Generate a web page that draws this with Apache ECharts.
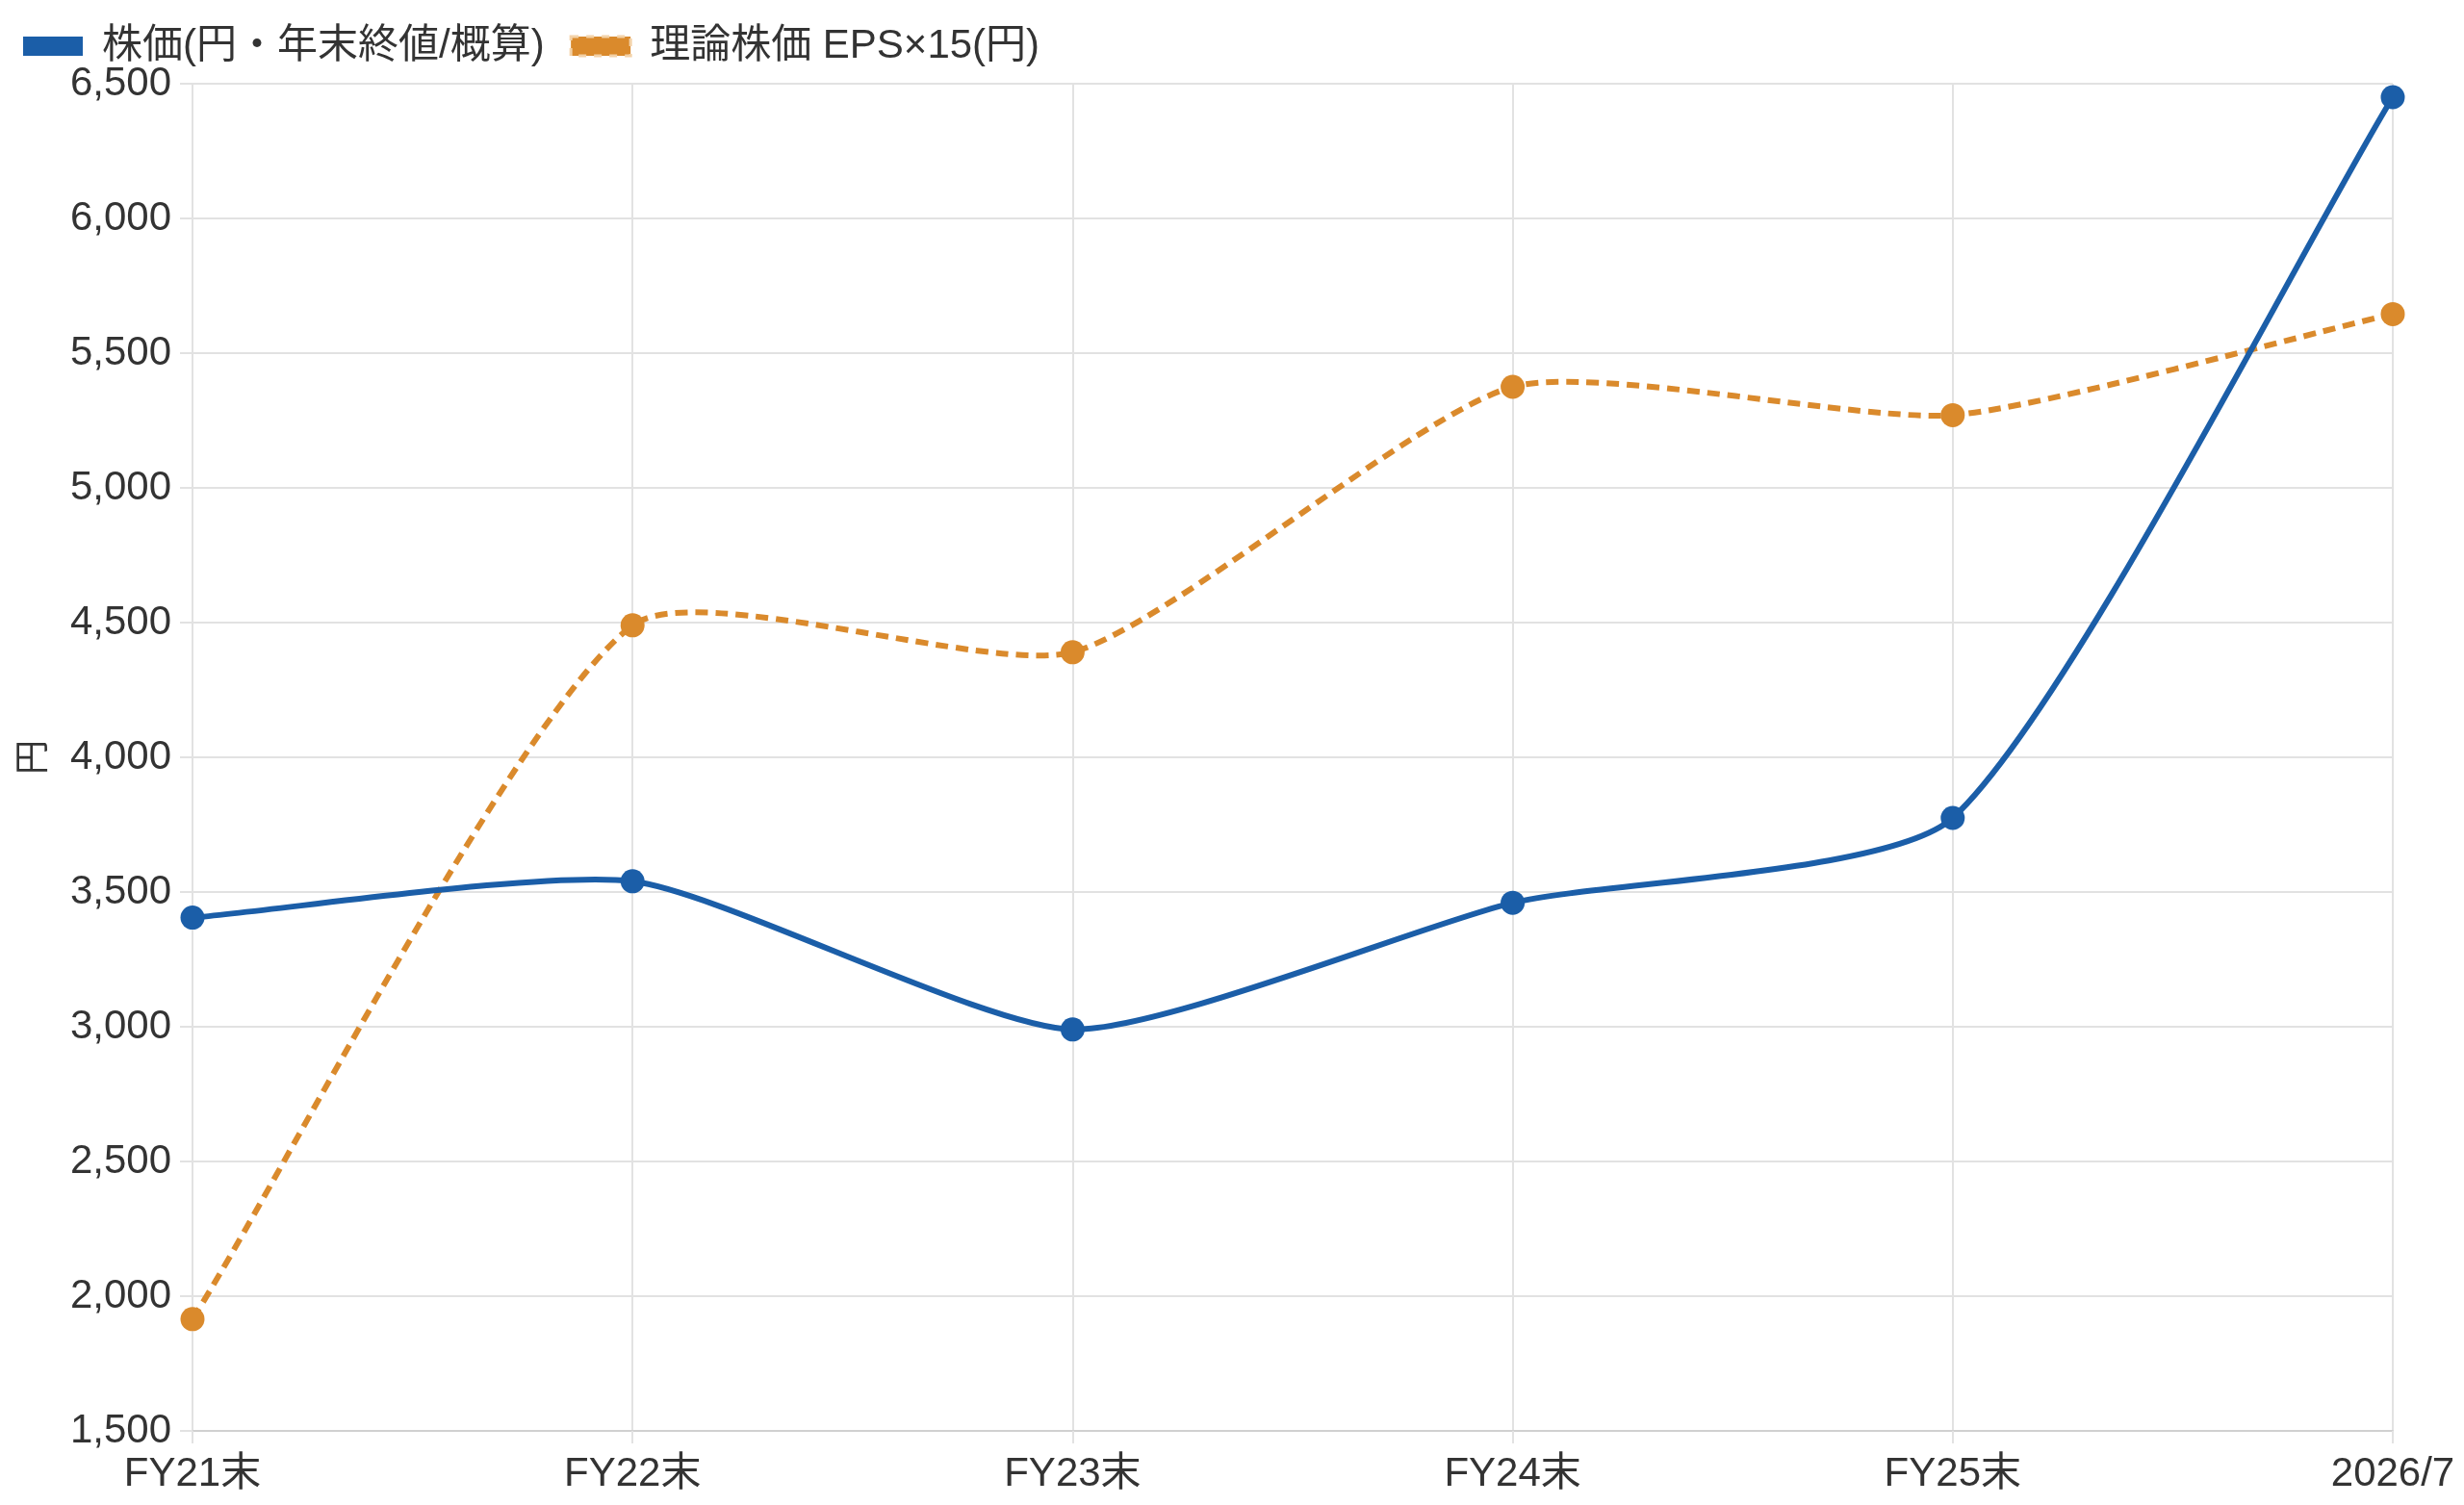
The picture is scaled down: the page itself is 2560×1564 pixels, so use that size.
<!DOCTYPE html>
<html>
<head>
<meta charset="utf-8">
<script src="https://cdn.jsdelivr.net/npm/echarts@6/dist/echarts.min.js"></script>
<style>
html,body{margin:0;padding:0;background:#fff;}
#chart{width:2560px;height:1564px;}
</style>
</head>
<body>
<div id="chart"></div>
<script>
var categories = ['FY21末','FY22末','FY23末','FY24末','FY25末','2026/7'];
var priceValues = [3405, 3540, 2990, 3460, 3775, 6450];
var theoryValues = [1915, 4490, 4390, 5375, 5270, 5645];
var seriesNames = ['株価(円・年末終値/概算)', '理論株価 EPS×15(円)'];

var FONT = 'Liberation Sans, "Noto Sans CJK JP", sans-serif';
var TEXT = '#333333';
var GRID = '#e2e2e2';
var BLUE = '#1b5ea8';
var ORANGE = '#da8a2c';
var TENSION = 0.2;

// 曲線は各点の前後から制御点を計算（端点は隣の点の方へ）
function splinePath(api, values){
	var pts = values.map(function(v, i){ return api.coord([i, v]); });
	var n = pts.length;
	var cps = pts.map(function(p, i){
		var prev = pts[Math.max(i - 1, 0)];
		var next = pts[Math.min(i + 1, n - 1)];
		var d01 = Math.hypot(p[0] - prev[0], p[1] - prev[1]);
		var d12 = Math.hypot(next[0] - p[0], next[1] - p[1]);
		var s01 = d01 / (d01 + d12) || 0;
		var s12 = d12 / (d01 + d12) || 0;
		var fa = TENSION * s01, fb = TENSION * s12;
		return {
			prev: [p[0] - fa * (next[0] - prev[0]), p[1] - fa * (next[1] - prev[1])],
			next: [p[0] + fb * (next[0] - prev[0]), p[1] + fb * (next[1] - prev[1])]
		};
	});
	var d = 'M' + pts[0][0] + ' ' + pts[0][1];
	for (var i = 1; i < n; i++) {
		d += ' C' + cps[i - 1].next[0] + ' ' + cps[i - 1].next[1] +
			' ' + cps[i].prev[0] + ' ' + cps[i].prev[1] +
			' ' + pts[i][0] + ' ' + pts[i][1];
	}
	return d;
}

function makeSeries(name, values, color, dash, z){
	return {
		name: name,
		type: 'custom',
		coordinateSystem: 'cartesian2d',
		data: values.map(function(v, i){ return [i, v]; }),
		encode: {x: 0, y: 1},
		clip: false,
		z: z,
		renderItem: function(params, api){
			var i = params.dataIndex;
			var c = api.coord([i, values[i]]);
			var children = [];
			if (i === 0) {
				children.push({
					type: 'path',
					shape: {pathData: splinePath(api, values)},
					style: {fill: 'none', stroke: color, lineWidth: 6, lineDash: dash}
				});
			}
			children.push({
				type: 'circle',
				shape: {cx: c[0], cy: c[1], r: 12.5},
				style: {fill: color}
			});
			return {type: 'group', children: children};
		}
	};
}

var myChart = echarts.init(document.getElementById('chart'));
var option = {
	backgroundColor: '#ffffff',
	animation: false,
	legend: {
		left: 24,
		top: 27,
		padding: 0,
		itemWidth: 62,
		itemHeight: 20,
		itemGap: 26,
		icon: 'rect',
		textStyle: {
			fontFamily: FONT,
			fontSize: 42,
			color: TEXT,
			padding: [0, 0, 0, 15]
		},
		data: [
			{name: seriesNames[0], itemStyle: {color: BLUE}},
			{name: seriesNames[1], itemStyle: {color: ORANGE, borderColor: '#f3d2a8', borderWidth: 3, borderType: [8, 8]}}
		]
	},
	grid: {
		left: 200,
		right: 74,
		top: 87,
		bottom: 77,
		containLabel: false,
		outerBoundsMode: 'none'
	},
	xAxis: {
		type: 'category',
		boundaryGap: false,
		data: categories,
		axisLine: {show: true, lineStyle: {color: '#d0d0d0', width: 2}},
		axisTick: {show: true, length: 13, alignWithLabel: true, lineStyle: {color: GRID, width: 2}},
		splitLine: {show: true, lineStyle: {color: GRID, width: 2}},
		axisLabel: {
			fontFamily: FONT,
			fontSize: 42,
			color: TEXT,
			margin: 24
		}
	},
	yAxis: {
		type: 'value',
		min: 1500,
		max: 6500,
		interval: 500,
		name: '円',
		nameLocation: 'middle',
		nameRotate: 90,
		nameGap: 146,
		nameTextStyle: {fontFamily: FONT, fontSize: 36, color: TEXT},
		axisLine: {show: true, lineStyle: {color: GRID, width: 2}},
		axisTick: {show: true, length: 13, lineStyle: {color: GRID, width: 2}},
		splitLine: {show: true, lineStyle: {color: GRID, width: 2}},
		axisLabel: {
			fontFamily: FONT,
			fontSize: 42,
			color: TEXT,
			margin: 22,
			formatter: function(v){ return v.toLocaleString('en-US'); }
		}
	},
	series: [
		makeSeries(seriesNames[1], theoryValues, ORANGE, [13, 8], 2),
		makeSeries(seriesNames[0], priceValues, BLUE, null, 3)
	]
};
myChart.setOption(option);
</script>
</body>
</html>
